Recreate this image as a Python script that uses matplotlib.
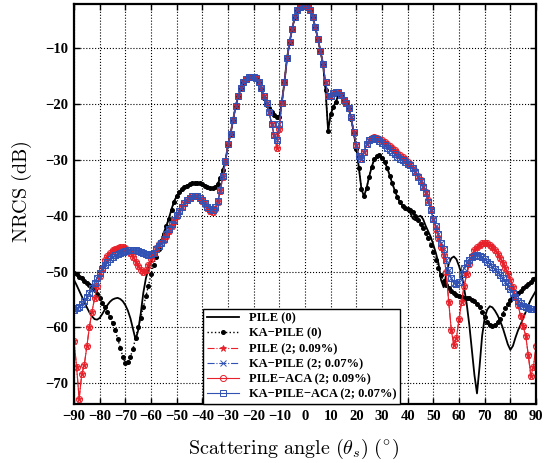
import matplotlib
matplotlib.use("Agg")
import matplotlib.pyplot as plt
import numpy as np

# scattering angles, 1 degree steps
theta = np.arange(-90, 91, 1)

# PILE (0) - black solid
pile0 = [
    -51.5, -52.4, -53.4, -54.4, -55.4, -56.4, -57.3, -58.0, -58.5, -58.6,
    -58.3, -57.6, -56.8, -56.0, -55.4, -55.0, -54.8, -54.7, -54.9, -55.3,
    -56.0, -57.0, -58.4, -60.3, -62.2, -60.5, -57.5, -53.8, -51.2, -49.5,
    -48.3, -47.3, -46.4, -45.6, -44.4, -43.0, -41.8, -40.4, -38.8, -37.4,
    -36.5, -35.8, -35.2, -34.8, -34.6, -34.4, -34.2, -34.1, -34.1, -34.2,
    -34.4, -34.6, -34.8, -35.0, -35.1, -34.9, -34.3, -33.2, -31.8, -30.2,
    -27.3, -25.3, -22.8, -20.3, -18.6, -17.2, -16.0, -15.5, -15.2, -15.1,
    -15.1, -15.3, -16.0, -17.3, -19.0, -20.1, -20.8, -21.4, -22.0, -22.4,
    -22.3, -19.6, -16.0, -11.8, -8.9, -6.5, -4.5, -3.2, -2.6, -2.4,
    -2.3, -2.7, -3.2, -4.5, -6.2, -8.3, -10.5, -12.8, -17.5, -24.8,
    -21.8, -20.6, -19.6, -18.4, -18.4, -19.2, -19.8, -20.8, -22.6, -25.2,
    -28.0, -31.5, -35.3, -36.5, -35.0, -33.0, -31.2, -29.9, -29.3, -29.2,
    -29.6, -30.3, -31.4, -32.8, -34.2, -35.5, -36.7, -37.6, -38.2, -38.6,
    -38.8, -39.5, -40.5, -40.8, -40.2, -40.0, -40.6, -41.8, -42.8, -43.8,
    -45.2, -46.7, -48.5, -51.5, -52.8, -50.5, -48.6, -47.6, -47.3, -47.8,
    -49.0, -50.5, -53.0, -55.8, -59.5, -64.0, -68.5, -71.8, -67.0, -61.5,
    -58.3, -56.8, -56.2, -56.4, -57.0, -57.8, -58.8, -60.0, -61.5, -63.0,
    -64.0, -63.3, -61.8, -60.5, -59.5, -58.3, -57.2, -56.0, -55.0, -54.2, -53.4,
]

# KA-PILE (0) - black dotted with dots
kapile0 = [
    -50.2, -50.5, -50.9, -51.2, -51.6, -52.0, -52.4, -52.8, -53.3, -54.0,
    -54.8, -55.6, -56.4, -57.2, -58.1, -59.2, -60.4, -62.0, -63.6, -65.2,
    -66.4, -66.2, -65.2, -63.8, -61.8, -60.0, -58.3, -56.4, -54.4, -52.5,
    -50.5, -48.8, -47.3, -45.9, -44.6, -43.2, -41.9, -40.5, -38.9, -37.5,
    -36.5, -35.8, -35.2, -34.8, -34.6, -34.4, -34.2, -34.1, -34.1, -34.2,
    -34.4, -34.6, -34.8, -35.0, -35.1, -34.9, -34.3, -33.2, -31.8, -30.2,
    -27.3, -25.3, -22.8, -20.3, -18.6, -17.2, -16.0, -15.5, -15.2, -15.1,
    -15.1, -15.3, -16.0, -17.3, -19.0, -20.1, -20.8, -21.4, -22.0, -22.4,
    -22.3, -19.6, -16.0, -11.8, -8.9, -6.5, -4.5, -3.2, -2.6, -2.4,
    -2.3, -2.7, -3.2, -4.5, -6.2, -8.3, -10.5, -12.8, -17.5, -24.8,
    -21.8, -20.6, -19.6, -18.4, -18.4, -19.2, -19.8, -20.8, -22.6, -25.2,
    -28.0, -31.5, -35.3, -36.5, -35.0, -33.0, -31.2, -29.9, -29.3, -29.2,
    -29.6, -30.3, -31.4, -32.8, -34.2, -35.5, -36.7, -37.6, -38.2, -38.6,
    -38.8, -39.0, -39.4, -40.0, -40.7, -41.4, -42.2, -43.0, -44.0, -45.2,
    -46.5, -48.0, -49.3, -50.6, -51.6, -52.4, -53.0, -53.5, -53.9, -54.2,
    -54.4, -54.6, -54.7, -54.8, -54.8, -55.0, -55.3, -55.8, -56.4, -57.3,
    -58.2, -59.0, -59.6, -59.8, -59.5, -59.0, -58.4, -57.5, -56.6, -55.8,
    -55.1, -54.6, -54.2, -53.8, -53.4, -53.0, -52.6, -52.2, -51.8, -51.4, -51.1,
]

# PILE (2; 0.09%) and PILE-ACA (2; 0.09%) - red
pile2 = [
    -62.5, -67.0, -72.8, -68.4, -66.7, -63.4, -59.9, -57.2, -54.8, -52.6,
    -50.8, -49.3, -48.0, -47.2, -46.6, -46.2, -45.9, -45.7, -45.6, -45.6,
    -45.7, -46.1, -46.7, -47.4, -48.2, -49.0, -49.7, -50.1, -49.8, -48.8,
    -47.7, -46.6, -45.7, -45.0, -44.9, -44.4, -43.7, -42.8, -41.9, -41.0,
    -40.0, -39.2, -38.5, -37.8, -37.2, -36.8, -36.5, -36.4, -36.5, -36.8,
    -37.3, -37.9, -38.6, -39.2, -39.4, -38.8, -37.6, -35.6, -33.0, -30.3,
    -27.2, -25.3, -22.8, -20.3, -18.6, -17.2, -16.0, -15.5, -15.2, -15.1,
    -15.1, -15.3, -16.0, -17.2, -18.6, -19.8, -21.4, -23.6, -25.6, -27.8,
    -24.5, -19.8, -16.0, -11.8, -8.9, -6.5, -4.5, -3.2, -2.6, -2.4,
    -2.3, -2.7, -3.2, -4.5, -6.2, -8.3, -10.5, -12.8, -16.0, -18.6,
    -18.5, -18.1, -17.9, -17.9, -18.4, -19.2, -19.8, -20.8, -22.4, -25.0,
    -27.3, -29.3, -29.8, -28.6, -27.2, -26.5, -26.0, -25.9, -26.0, -26.2,
    -26.5, -26.8, -27.1, -27.5, -27.9, -28.3, -28.7, -29.1, -29.5, -29.9,
    -30.3, -30.8, -31.4, -32.0, -32.8, -33.6, -34.6, -35.8, -37.2, -38.8,
    -40.6, -42.3, -44.0, -45.6, -47.0, -50.0, -55.5, -60.5, -63.2, -61.8,
    -58.5, -55.4, -52.5, -50.5, -48.6, -47.2, -46.2, -45.6, -45.2, -44.9,
    -44.8, -44.9, -45.2, -45.6, -46.1, -46.8, -47.6, -48.4, -49.4, -50.4,
    -51.5, -52.8, -54.4, -56.0, -58.0, -59.8, -61.5, -65.0, -68.7, -67.0, -63.4,
]

# KA-PILE (2; 0.07%) and KA-PILE-ACA (2; 0.07%) - blue
kapile2 = [
    -56.8, -56.6, -56.3, -55.8, -55.3, -54.6, -53.8, -52.9, -52.0, -51.1,
    -50.3, -49.6, -48.9, -48.3, -47.8, -47.4, -47.1, -46.8, -46.6, -46.4,
    -46.3, -46.2, -46.2, -46.2, -46.2, -46.3, -46.4, -46.6, -46.9, -47.0,
    -46.9, -46.6, -46.0, -45.4, -44.8, -44.1, -43.3, -42.4, -41.5, -40.7,
    -39.9, -39.2, -38.5, -37.8, -37.2, -36.8, -36.5, -36.4, -36.5, -36.8,
    -37.2, -37.8, -38.4, -38.8, -38.9, -38.5, -37.4, -35.4, -32.8, -30.2,
    -27.2, -25.3, -22.8, -20.3, -18.6, -17.2, -16.0, -15.5, -15.2, -15.1,
    -15.1, -15.3, -16.0, -17.2, -18.6, -19.8, -21.4, -23.6, -25.6, -26.4,
    -23.5, -19.8, -16.0, -11.8, -8.9, -6.5, -4.5, -3.2, -2.6, -2.4,
    -2.3, -2.7, -3.2, -4.5, -6.2, -8.3, -10.5, -12.8, -16.0, -18.6,
    -18.5, -18.1, -17.9, -17.9, -18.4, -19.2, -19.8, -20.8, -22.4, -25.0,
    -27.3, -29.3, -29.8, -28.6, -27.2, -26.5, -26.2, -26.1, -26.3, -26.6,
    -27.0, -27.4, -27.8, -28.2, -28.6, -29.0, -29.4, -29.8, -30.1, -30.4,
    -30.7, -31.0, -31.5, -32.2, -33.0, -33.8, -34.8, -36.0, -37.5, -39.0,
    -40.5, -41.8, -43.3, -44.8, -46.0, -48.0, -49.8, -51.2, -52.1, -52.3,
    -51.8, -50.5, -49.3, -48.5, -47.9, -47.4, -47.2, -47.1, -47.2, -47.4,
    -47.8, -48.2, -48.7, -49.1, -49.6, -50.1, -50.6, -51.1, -51.8, -52.5,
    -53.2, -53.8, -54.5, -55.2, -55.7, -56.1, -56.4, -56.6, -56.7, -56.7, -56.7,
]

xticks = np.arange(-90, 91, 10)
yticks = np.arange(-70, -9, 10)

plt.rcParams['mathtext.fontset'] = 'cm'
red = '#e8202a'
blue = '#3052b4'

fig = plt.figure(figsize=(5.59, 4.63), dpi=100)
ax = fig.add_axes([0.1324, 0.1274, 0.8265, 0.8639])

ax.plot(theta, pile0, '-', color='black', lw=1.3, label='PILE (0)')
ax.plot(theta, kapile0, ':', color='black', lw=1.0, marker='o', ms=2.6,
        label='KA\u2212PILE (0)')
ax.plot(theta, pile2, '-.', color=red, lw=0.8, marker='*', ms=4.8, mew=0.6,
        label='PILE (2; 0.09%)')
ax.plot(theta, kapile2, '-.', color=blue, lw=0.8, marker='x', ms=3.8, mew=0.7,
        label='KA\u2212PILE (2; 0.07%)')
ax.plot(theta, pile2, '-', color=red, lw=0.8, marker='o', ms=4.4, mfc='none',
        mew=0.7, label='PILE\u2212ACA (2; 0.09%)')
ax.plot(theta, kapile2, '-', color=blue, lw=0.8, marker='s', ms=4.6, mfc='none',
        mew=0.7, label='KA\u2212PILE\u2212ACA (2; 0.07%)')

ax.set_xlim(-90, 90)
ax.set_ylim(-73.7, -2.1)
ax.set_xticks(xticks)
ax.set_yticks(yticks)
ax.grid(True, linestyle=':', color='black', lw=0.8)
ax.tick_params(direction='in', top=True, right=True, length=4, width=1,
               labelsize=10.5, pad=4)
for lab in ax.get_xticklabels() + ax.get_yticklabels():
    lab.set_fontfamily('Liberation Serif')
    lab.set_fontweight('bold')
for sp in ax.spines.values():
    sp.set_linewidth(1.6)

ax.set_xlabel(r'$\mathrm{Scattering\ angle\ (\theta_{\mathit{s}})\ (^{\circ})}$', fontsize=14.5)
ax.set_ylabel(r'$\mathrm{NRCS\ (dB)}$', fontsize=14.5)
ax.xaxis.set_label_coords(0.476, -0.082)
ax.yaxis.set_label_coords(-0.086, 0.53)

leg = ax.legend(loc='lower left', bbox_to_anchor=(0.279, 0.0), borderaxespad=0,
                fancybox=False, framealpha=1, edgecolor='black', numpoints=1,
                handlelength=2.6, labelspacing=0.25, borderpad=0.3,
                prop={'family': 'Liberation Serif', 'weight': 'bold', 'size': 9})
leg.get_frame().set_linewidth(1.0)

plt.savefig('out.png', dpi=100)
